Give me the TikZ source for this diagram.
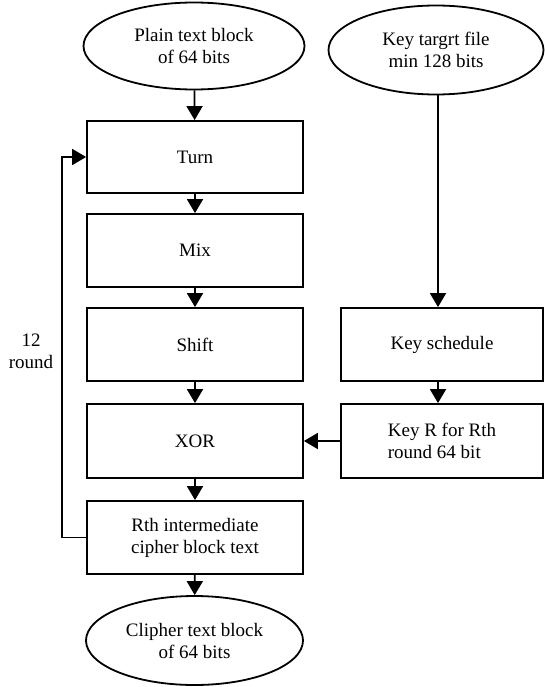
\documentclass[tikz,border=0pt]{standalone}
\usepackage{fontspec}
\setmainfont{Liberation Serif}
\usetikzlibrary{shapes.geometric,arrows.meta}
\tikzset{
  base/.style={draw=black,line width=1.8pt,inner sep=0pt,font=\fontsize{19}{22}\selectfont,align=center},
  oval/.style={base,ellipse},
  stepbox/.style={base,rectangle,minimum width=216pt,minimum height=73pt},
  keybox/.style={base,rectangle,minimum width=202pt,minimum height=73pt},
  arr/.style={line width=1.8pt,-{Triangle[width=16pt,length=14pt]}},
}
\begin{document}
\begin{tikzpicture}[x=1pt,y=-1pt]
\useasboundingbox (0,0) rectangle (545,687);
\node[oval,minimum width=221pt,minimum height=87pt] (plain) at (194,46) {Plain text block\\of 64 bits};
\node[oval,minimum width=215pt,minimum height=89pt] (key) at (436,50) {Key targrt file\\min 128 bits};
\node[stepbox,minimum height=72pt] (turn) at (195,157) {Turn};
\node[stepbox] (mix) at (195,250.5) {Mix};
\node[stepbox] (shift) at (195,344.5) {Shift};
\node[stepbox,minimum height=74pt] (xor) at (195,441) {XOR};
\node[stepbox] (rth) at (195,537.5) {Rth intermediate\\cipher block text};
\node[oval,minimum width=217pt,minimum height=89pt] (clip) at (194.5,640.5) {Clipher text block\\of 64 bits};
\node[keybox] (ks) at (442,344.5) {Key schedule};
\node[keybox,minimum height=74pt,align=left] (keyr) at (442,441) {Key R for Rth\\round 64 bit};
\node[font=\fontsize{19}{22}\selectfont,align=center,inner sep=0pt] (lbl) at (31,351) {12\\round};
\coordinate (kt) at (438,95);
\draw[arr] (plain) -- (turn);
\draw[arr] (turn) -- (mix);
\draw[arr] (mix) -- (shift);
\draw[arr] (shift) -- (xor);
\draw[arr] (xor) -- (rth);
\draw[arr] (rth) -- (clip);
\draw[arr] (kt) -- (kt |- ks.north);
\draw[arr] (ks.south -| kt) -- (keyr.north -| kt);
\draw[arr] (keyr.west) -- (xor.east);
\draw[arr] (rth.west) -- ++(-24,0) |- (turn.west);
\end{tikzpicture}
\end{document}
